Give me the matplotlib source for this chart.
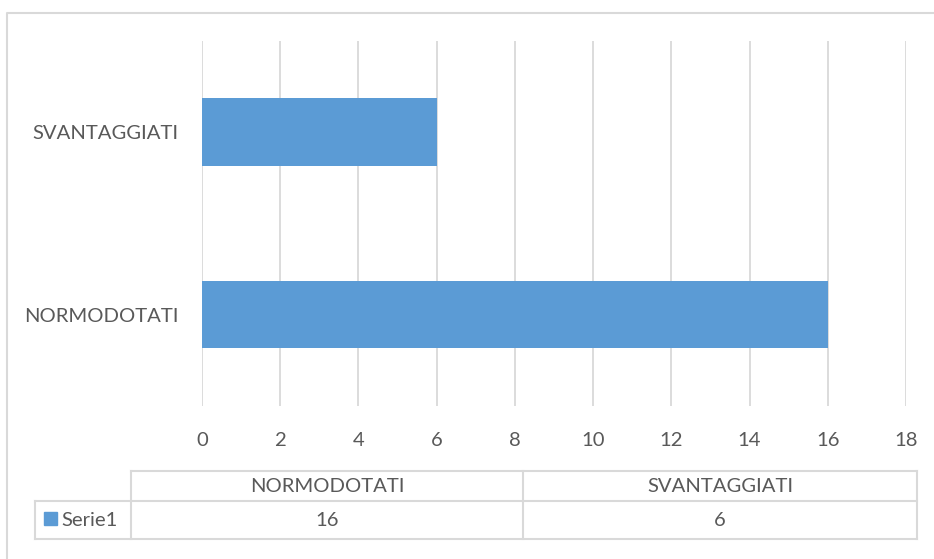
import matplotlib.pyplot as plt
from matplotlib.patches import Rectangle

# data
categories = ["NORMODOTATI", "SVANTAGGIATI"]
values = [16, 6]
series_name = "Serie1"
x_ticks = [0, 2, 4, 6, 8, 10, 12, 14, 16, 18]

W, H = 934, 559
bar_color = "#5b9bd5"
grid_color = "#d9d9d9"
text_color = "#595959"
fs = 14.6

plt.rcParams["font.family"] = ["Lato", "DejaVu Sans"]

fig = plt.figure(figsize=(W / 100, H / 100), dpi=100)

# main bar chart
x0, x1, y0, y1 = 202, 906, 40.7, 406
ax = fig.add_axes([x0 / W, 1 - y1 / H, (x1 - x0) / W, (y1 - y0) / H])
ax.barh(range(len(categories)), values, height=0.37, color=bar_color, zorder=3)
ax.set_xlim(0, 18)
ax.set_ylim(-0.5, len(categories) - 0.5)
ax.set_xticks(x_ticks)
ax.set_yticks(range(len(categories)))
ax.set_yticklabels(categories)
ax.grid(axis="x", color=grid_color, linewidth=1.3, zorder=0)
for s in ax.spines.values():
    s.set_visible(False)
ax.tick_params(axis="both", length=0, colors=text_color, labelsize=fs)
ax.tick_params(axis="y", pad=17)
ax.tick_params(axis="x", pad=19)

# overlay in pixel coords for the data table and chart border
ov = fig.add_axes([0, 0, 1, 1], zorder=-1)
ov.set_xlim(0, W)
ov.set_ylim(H, 0)
ov.axis("off")

# chart border (runs off right/bottom)
ov.plot([6.5, 6.5, W + 5], [H + 5, 12.7, 12.7], color=grid_color, lw=1.5)

# data table
tl, tc0, tm, tr = 35, 131, 523, 917
ty0, ty1, ty2 = 471, 501, 539
lw = 1.5
ov.plot([tc0, tr], [ty0, ty0], color=grid_color, lw=lw)
ov.plot([tl, tr], [ty1, ty1], color=grid_color, lw=lw)
ov.plot([tl, tr], [ty2, ty2], color=grid_color, lw=lw)
ov.plot([tl, tl], [ty1, ty2], color=grid_color, lw=lw)
for xx in (tc0, tm, tr):
    ov.plot([xx, xx], [ty0, ty2], color=grid_color, lw=lw)

cols = [(tc0, tm), (tm, tr)]
for (a, b), cat, v in zip(cols, categories, values):
    ov.text((a + b) / 2, (ty0 + ty1) / 2, cat, ha="center", va="center",
            fontsize=fs, color=text_color)
    ov.text((a + b) / 2, (ty1 + ty2) / 2, str(v), ha="center", va="center",
            fontsize=fs, color=text_color)

ov.add_patch(Rectangle((44, 512), 13, 13, color=bar_color))
ov.text(61, (ty1 + ty2) / 2, series_name, ha="left", va="center",
        fontsize=fs, color=text_color)

fig.savefig("out.png", dpi=100)
